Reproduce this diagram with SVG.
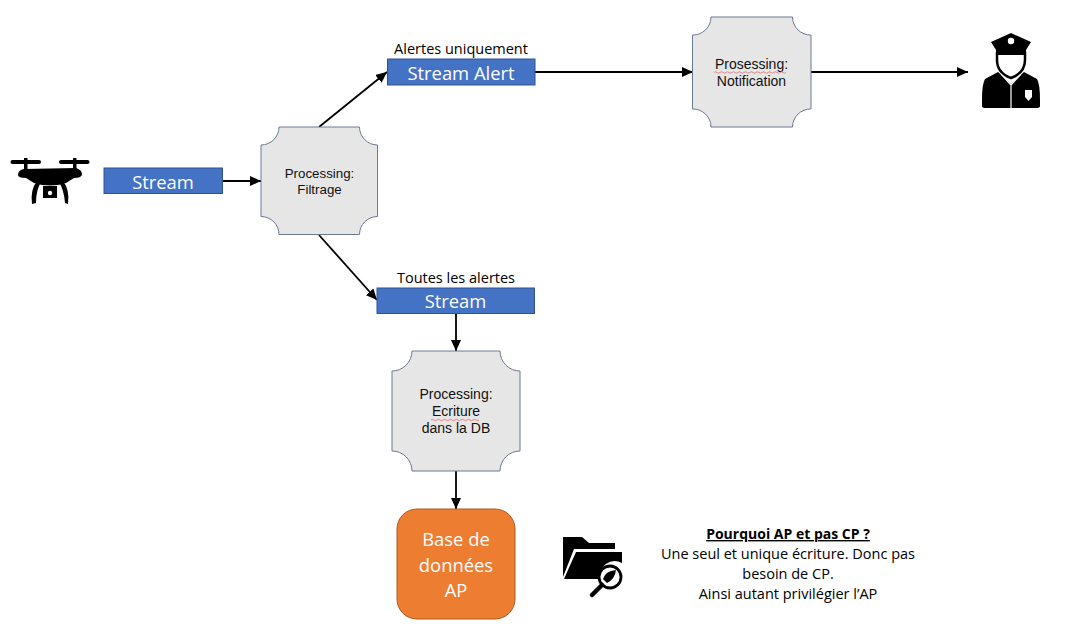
<svg xmlns="http://www.w3.org/2000/svg" width="1081" height="634" viewBox="0 0 1081 634">
<style>
.bar{fill:#4472c4;stroke:#2f528f;stroke-width:1}
.plq{fill:#e6e6e6;stroke:#6c7a90;stroke-width:1}
.bt{font-family:"Open Sans","Liberation Sans",sans-serif;font-size:18.400px;fill:#fff;text-anchor:middle}
.pt{font-family:"Liberation Sans",Arial,sans-serif;font-size:14px;fill:#111;text-anchor:middle}
.lb{font-family:"Open Sans","Liberation Sans",sans-serif;font-size:14.500px;fill:#000;text-anchor:middle}
.cn{fill:none;stroke:#000;stroke-width:1.800;marker-end:url(#ah)}
.sq{fill:none;stroke:#e06c6c;stroke-width:.8}
.ic{fill:#000}
.wl{fill:none;stroke:#fff;stroke-width:1.200}
</style>
<defs>
<marker id="ah" markerUnits="userSpaceOnUse" markerWidth="12" markerHeight="10" refX="11" refY="5" orient="auto"><path d="M0 0L11 5L0 10Z" fill="#000"/></marker>
</defs>
<rect width="1081" height="634" fill="#fff"/>
<g id="connectors">
<line class="cn" x1="222" y1="181" x2="261" y2="181"/>
<line class="cn" x1="319" y1="127" x2="387" y2="72"/>
<line class="cn" x1="319" y1="235" x2="377" y2="300"/>
<line class="cn" x1="535" y1="72" x2="693" y2="72"/>
<line class="cn" x1="811" y1="72" x2="968" y2="72"/>
<line class="cn" x1="456" y1="313" x2="456" y2="351"/>
<line class="cn" x1="456" y1="471" x2="456" y2="509"/>
</g>
<g id="drone" class="ic">
<rect x="10.500" y="160" width="30.500" height="4" rx="2"/><rect x="59" y="160" width="30.500" height="4" rx="2"/>
<rect x="24" y="158" width="3.500" height="12"/><rect x="73" y="158" width="3.500" height="12"/>
<path d="M18 175Q18 170 24 169L76 168Q82 170 82 174Q82 178 74 178L66 183Q50 188 34 183L26 178Q18 178 18 175Z"/>
<path d="M37 181L41 182Q36 190 36 203L32 204Q30 190 37 181ZM63 181L59 182Q64 190 65 203L68 204Q70 190 63 181Z"/>
<path d="M43 186H57V198H43Z"/>
<circle cx="50" cy="193" r="2.200" fill="#fff"/>
</g>
<g id="stream1"><rect class="bar" x="104" y="168" width="118.500" height="25.500"/><text class="bt" x="163" y="188.500">Stream</text></g>
<g id="filtrage"><path class="plq" d="M279 127H359.500A18 18 0 0 0 377.500 145V216.500A18 18 0 0 0 359.500 234.500H279A18 18 0 0 0 261 216.500V145A18 18 0 0 0 279 127Z"/><text class="pt" x="319.500" y="178" font-size="13.300" style="font-size:13.300px">Processing:</text><text class="pt" x="319.500" y="194" style="font-size:13.300px">Filtrage</text></g>
<g id="alert"><text class="lb" x="461" y="54">Alertes uniquement</text><rect class="bar" x="387.500" y="59" width="147.500" height="26"/><text class="bt" x="461" y="79.500">Stream Alert</text></g>
<g id="notification"><path class="plq" d="M711 17H792.500A18 18 0 0 0 811 35V109A18 18 0 0 0 792.500 127H711A18 18 0 0 0 692.500 109V35A18 18 0 0 0 711 17Z"/><text class="pt" x="751.500" y="69">Prosessing:</text><text class="pt" x="751.500" y="86">Notification</text><path class="sq" d="M714 72.500q1.500 -1.500 3 0t3 0t3 0t3 0t3 0t3 0t3 0t3 0t3 0t3 0t3 0t3 0t3 0t3 0t3 0t3 0t3 0t3 0t3 0t3 0t3 0t3 0t3 0t3 0"/></g>
<g id="police" class="ic">
<path d="M991 42L1011 33L1031 42L1026 50V54H996V50Z"/>
<circle cx="1011" cy="41" r="3.200" fill="#fff"/>
<path d="M997 52V60Q997 73 1011 78Q1025 73 1025 60V52" fill="#fff" stroke="#000" stroke-width="2.500"/>
<path d="M997 50H1025V55H997Z"/>
<path d="M998 72L1011 84L1024 72L1037 79Q1040 84 1040 100V106Q1040 108 1036 108H986Q982 108 982 106V100Q982 84 985 79Z"/>
<path class="wl" d="M1001 74L1011 85L1021 74M1011 85V108"/>
<path d="M1025 90h7v7l-3.500 4l-3.500 -4Z" fill="#fff"/>
</g>
<g id="stream2"><text class="lb" x="456" y="283">Toutes les alertes</text><rect class="bar" x="377" y="288" width="157.500" height="25.500"/><text class="bt" x="455.500" y="308">Stream</text></g>
<g id="ecriture"><path class="plq" d="M412 351H500A20 20 0 0 0 520 371V451A20 20 0 0 0 500 471H412A20 20 0 0 0 392 451V371A20 20 0 0 0 412 351Z"/><text class="pt" x="456" y="399">Processing:</text><text class="pt" x="456" y="416">Ecriture</text><text class="pt" x="456" y="433">dans la DB</text><path class="sq" d="M431 420q1.500 -1.500 3 0t3 0t3 0t3 0t3 0t3 0t3 0t3 0t3 0t3 0t3 0t3 0t3 0t3 0t3 0t3 0"/></g>
<g id="base"><rect x="397" y="509" width="118" height="110" rx="20" fill="#ed7d31" stroke="#ae5a21"/><text class="bt" x="456" y="546">Base de</text><text class="bt" x="456" y="572">données</text><text class="bt" x="456" y="597">AP</text></g>
<g id="folder" class="ic">
<path d="M563 537H582L589 543H615V549H574L563 577Z"/>
<path d="M576 552H622V563A15 15 0 0 0 600 579H564Z"/>
<circle cx="610" cy="577" r="11" fill="#fff" stroke="#000" stroke-width="2.800"/>
<path d="M603 579Q605 571 616 570Q615 579 607 583Z"/>
<path d="M602 585L592 595" stroke="#000" stroke-width="4.500" stroke-linecap="round"/>
</g>
<g id="note"><text class="lb" x="788" y="539" font-weight="700" text-decoration="underline" style="font-size:14px">Pourquoi AP et pas CP ?</text><text class="lb" x="788" y="559">Une seul et unique écriture. Donc pas</text><text class="lb" x="788" y="579">besoin de CP.</text><text class="lb" x="788" y="599">Ainsi autant privilégier l’AP</text></g>
</svg>
